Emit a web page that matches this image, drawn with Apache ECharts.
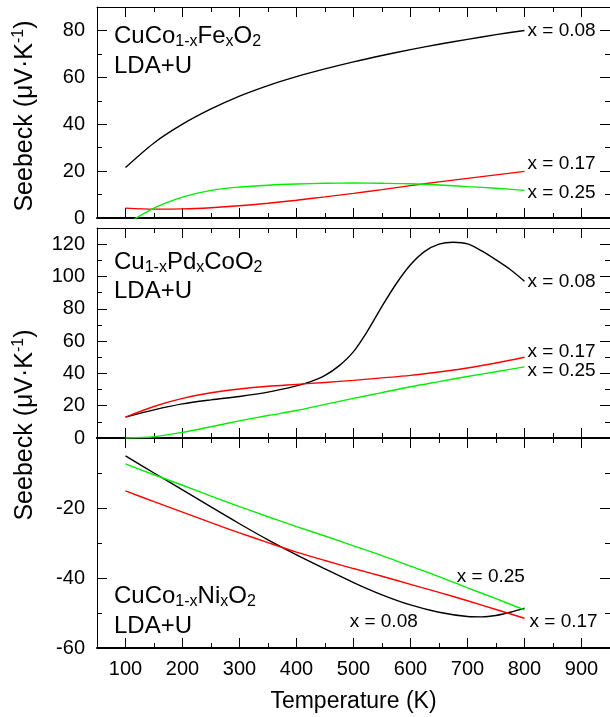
<!DOCTYPE html>
<html>
<head>
<meta charset="utf-8">
<script src="https://cdn.jsdelivr.net/npm/echarts@6/dist/echarts.min.js"></script>
<style>html,body{margin:0;padding:0;background:#fff}#c{width:610px;height:717px}</style>
</head>
<body>
<div id="c"></div>
<script>
// ---------- data ----------
const X_MAJOR = [100, 200, 300, 400, 500, 600, 700, 800, 900];
const X_MINOR = [150, 250, 350, 450, 550, 650, 750, 850];

const TOP_Y_LABELS = [0, 20, 40, 60, 80];
const TOP_Y_MINOR = [10, 30, 50, 70];
const MID_Y_LABELS = [0, 20, 40, 60, 80, 100, 120];
const MID_Y_MINOR = [10, 30, 50, 70, 90, 110];
const BOT_Y_LABELS = [-60, -40, -20];
const BOT_Y_MINOR = [-50, -30, -10];

const SERIES_NAMES = ['x = 0.08', 'x = 0.17', 'x = 0.25'];

// Temperatures (K)
const TEMPS = [100, 150, 200, 250, 300, 350, 400, 450, 500, 550, 600, 650, 700, 750, 800];
const TEMPS_MID_008 = [100, 150, 200, 250, 300, 350, 400, 425, 450, 475, 500, 525, 550, 575, 600, 625, 650, 675, 700, 725, 750, 775, 800];
const TEMPS_BOT_008 = [100, 150, 200, 250, 300, 350, 400, 450, 500, 550, 600, 650, 700, 725, 750, 775, 800];

// Top panel: CuCo1-xFexO2
const TOP_008 = [21.5, 32, 40, 46.5, 52, 56.5, 60.3, 63.6, 66.6, 69.3, 71.8, 74.1, 76.2, 78.2, 80];
const TOP_017 = [4.2, 3.8, 3.9, 4.4, 5.2, 6.3, 7.6, 9.0, 10.5, 12.1, 13.8, 15.4, 16.9, 18.4, 19.9];
const TOP_025 = [-2.8, 4.2, 8.9, 11.8, 13.2, 14.0, 14.5, 14.8, 14.9, 14.8, 14.6, 14.1, 13.4, 12.7, 11.8];

// Middle panel: Cu1-xPdxCoO2
const MID_008 = [12.9, 17.4, 21.1, 23.6, 25.7, 28.4, 32.3, 34.9, 38.7, 44.8, 53.5, 66.5, 81.5, 95.5, 107.2, 115.5, 120, 121.2, 120.2, 115.8, 110.3, 104.3, 97];
const MID_017 = [12.9, 19.5, 24.5, 28, 30.3, 32, 33.2, 34.4, 35.7, 37.2, 38.8, 40.9, 43.3, 46.4, 50];
const MID_025 = [0, 0.8, 3.5, 7, 10.6, 13.9, 17.0, 20.8, 24.5, 28.1, 31.7, 34.9, 38.1, 41, 44];

// Bottom panel: CuCo1-xNixO2
const BOT_008 = [-5.1, -10, -14.8, -19.7, -24.5, -29.1, -33.4, -37.4, -41.3, -44.8, -47.7, -49.8, -51.0, -51.1, -50.7, -49.8, -48.6];
const BOT_017 = [-15.1, -18.2, -21.2, -24.2, -27.1, -29.9, -32.6, -35, -37.3, -39.5, -41.8, -44.1, -46.5, -49, -51.5];
const BOT_025 = [-7.4, -10.5, -13.5, -16.6, -19.6, -22.5, -25.3, -28, -30.8, -33.6, -36.6, -39.6, -42.8, -45.9, -49.1];

// ---------- chart ----------
const FONT = "'Liberation Sans', Arial, Helvetica, sans-serif";
const COLORS = ['#000000', '#ff0000', '#00ee00'];
const pairs = (t, v) => t.map((x, i) => [x, v[i]]);

const grids = [
  { left: 97, top: 7, width: 515, height: 211 },
  { left: 97, top: 228, width: 515, height: 210 },
  { left: 97, top: 438, width: 515, height: 210 }
];
const yRanges = [[0, 90], [0, 130], [-60, 0]];
const yLabels = [TOP_Y_LABELS, MID_Y_LABELS, BOT_Y_LABELS];
const yMinor = [TOP_Y_MINOR, MID_Y_MINOR, BOT_Y_MINOR];
const bottomWidth = [2, 2, 2];
const topWidth = [1, 1, 2];

function xAx(g, pos, ticks, len, lineW, labels) {
  const a = {
    gridIndex: g, type: 'value', position: pos, min: 50, max: 950,
    axisLine: { show: lineW > 0, onZero: false, lineStyle: { color: '#000', width: lineW || 1 } },
    axisTick: { show: true, inside: true, length: len, customValues: ticks, lineStyle: { color: '#000', width: 1 } },
    axisLabel: { show: false },
    splitLine: { show: false }
  };
  if (labels) {
    a.axisLabel = { show: true, customValues: labels, color: '#000', fontSize: 20, fontFamily: FONT, margin: 11 };
    a.name = 'Temperature (K)';
    a.nameLocation = 'middle';
    a.nameGap = 42;
    a.nameTextStyle = { color: '#000', fontSize: 23, fontFamily: FONT };
  }
  return a;
}
function yAx(g, pos, ticks, len, lineW, labels) {
  const a = {
    gridIndex: g, type: 'value', position: pos, min: yRanges[g][0], max: yRanges[g][1],
    axisLine: { show: lineW > 0, onZero: false, lineStyle: { color: '#000', width: lineW || 1 } },
    axisTick: { show: true, inside: true, length: len, customValues: ticks, lineStyle: { color: '#000', width: 1 } },
    axisLabel: { show: false },
    splitLine: { show: false }
  };
  if (labels) {
    a.axisLabel = { show: true, customValues: labels, color: '#000', fontSize: 20, fontFamily: FONT, margin: 12 };
  }
  return a;
}

const xAxes = [], yAxes = [];
for (let g = 0; g < 3; g++) {
  xAxes.push(xAx(g, 'bottom', X_MAJOR, 10, bottomWidth[g], g === 2 ? X_MAJOR : null));
  xAxes.push(xAx(g, 'bottom', X_MINOR, 5, 0, null));
  xAxes.push(xAx(g, 'top', X_MAJOR, 10, topWidth[g], null));
  xAxes.push(xAx(g, 'top', X_MINOR, 5, 0, null));
  yAxes.push(yAx(g, 'left', yLabels[g].concat([yRanges[g][1]]), 10, 1, yLabels[g]));
  yAxes.push(yAx(g, 'left', yMinor[g], 5, 0, null));
  yAxes.push(yAx(g, 'right', yLabels[g], 10, 1, null));
  yAxes.push(yAx(g, 'right', yMinor[g], 5, 0, null));
}

function line(g, idx, temps, values, endLabelOffset, extra) {
  const s = {
    type: 'line', xAxisIndex: g * 4, yAxisIndex: g * 4,
    data: pairs(temps, values), smooth: 0.3, symbol: 'none', clip: true,
    lineStyle: { color: COLORS[idx], width: 1.4 },
    itemStyle: { color: COLORS[idx] },
    emphasis: { disabled: true },
    silent: true, z: 3
  };
  if (endLabelOffset) {
    s.endLabel = {
      show: true, formatter: SERIES_NAMES[idx], color: '#000', fontSize: 19, fontFamily: FONT,
      distance: 3, offset: endLabelOffset
    };
  }
  return Object.assign(s, extra || {});
}

function markLabel(coord, text) {
  return {
    symbol: 'circle', symbolSize: 0, silent: true,
    label: { show: true, position: 'inside', formatter: text, color: '#000', fontSize: 19, fontFamily: FONT },
    data: [{ coord: coord }]
  };
}

const series = [
  line(0, 0, TEMPS, TOP_008, [0, 0]),
  line(0, 1, TEMPS, TOP_017, [0, -8]),
  line(0, 2, TEMPS, TOP_025, [0, 2]),
  line(1, 0, TEMPS_MID_008, MID_008, [0, 0]),
  line(1, 1, TEMPS, MID_017, [0, -5]),
  line(1, 2, TEMPS, MID_025, [0, 4]),
  line(2, 0, TEMPS_BOT_008, BOT_008, null, { markPoint: markLabel([553, -52.5], SERIES_NAMES[0]) }),
  line(2, 1, TEMPS, BOT_017, [2, 4]),
  line(2, 2, TEMPS, BOT_025, null, { markPoint: markLabel([741, -39.7], SERIES_NAMES[2]) })
];

const MAIN = { fontSize: 24, fontFamily: FONT, fill: '#000', lineHeight: 27 };
const SUB = { fontSize: 16, fontFamily: FONT, fill: '#000', lineHeight: 12, verticalAlign: 'bottom' };
const YM = { fontSize: 25, fontFamily: FONT, fill: '#000', lineHeight: 28 };
const SUP = { fontSize: 16, fontFamily: FONT, fill: '#000', lineHeight: 12, verticalAlign: 'top' };
function rt(x, y, text, rotation) {
  return {
    type: 'text', x: x, y: y, rotation: rotation || 0, silent: true, z: 10,
    style: {
      text: text, fill: '#000', font: '24px ' + FONT,
      align: rotation ? 'center' : 'left', verticalAlign: 'middle',
      rich: { m: MAIN, s: SUB, y: YM, p: SUP }
    }
  };
}

const graphic = [
  rt(114, 36, '{m|CuCo}{s|1-x}{m|Fe}{s|x}{m|O}{s|2}'),
  rt(114, 66, '{m|LDA+U}'),
  rt(114, 262, '{m|Cu}{s|1-x}{m|Pd}{s|x}{m|CoO}{s|2}'),
  rt(114, 291, '{m|LDA+U}'),
  rt(114, 596, '{m|CuCo}{s|1-x}{m|Ni}{s|x}{m|O}{s|2}'),
  rt(114, 626, '{m|LDA+U}'),
  rt(25, 116, '{y|Seebeck (μV·K}{p|-1}{y|)}', Math.PI / 2),
  rt(25, 425, '{y|Seebeck (μV·K}{p|-1}{y|)}', Math.PI / 2)
];

const chart = echarts.init(document.getElementById('c'), null, { renderer: 'canvas' });
chart.setOption({
  animation: false,
  backgroundColor: '#fff',
  textStyle: { fontFamily: FONT },
  grid: grids,
  xAxis: xAxes,
  yAxis: yAxes,
  series: series,
  graphic: graphic
});
</script>
</body>
</html>
